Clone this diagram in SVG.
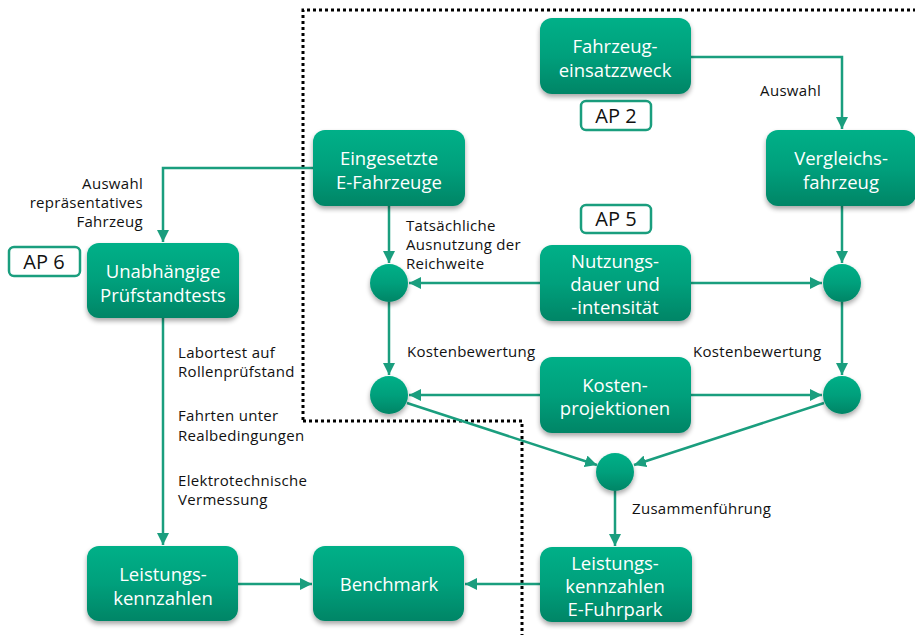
<svg xmlns="http://www.w3.org/2000/svg" width="915" height="635" viewBox="0 0 915 635">
<defs>
<linearGradient id="g" x1="0" y1="0" x2="0" y2="1">
<stop offset="0" stop-color="#05b088"/>
<stop offset="0.5" stop-color="#03a07c"/>
<stop offset="1" stop-color="#008566"/>
</linearGradient>
<filter id="sh" x="-20%" y="-20%" width="140%" height="150%">
<feGaussianBlur in="SourceAlpha" stdDeviation="2.5"/>
<feOffset dx="0" dy="3" result="b"/>
<feComponentTransfer><feFuncA type="linear" slope="0.35"/></feComponentTransfer>
<feMerge><feMergeNode/><feMergeNode in="SourceGraphic"/></feMerge>
</filter>
<marker id="ah" markerWidth="12" markerHeight="12" refX="12" refY="6" orient="auto" markerUnits="userSpaceOnUse">
<path d="M0,0 L12,6 L0,12 Z" fill="#1a9e7e"/>
</marker>
</defs>
<style>
.n{fill:url(#g);filter:url(#sh)}
.nt{font-family:"Open Sans","Noto Sans","Liberation Sans",sans-serif;font-size:18.5px;fill:#fff;text-anchor:middle}
.c{fill:url(#g);filter:url(#sh)}
.e{stroke:#1a9e7e;stroke-width:2.5;fill:none;marker-end:url(#ah)}
.l{font-family:"Open Sans","Noto Sans","Liberation Sans",sans-serif;font-size:15px;letter-spacing:0.3px;fill:#111}
.ap{fill:#fff;stroke:#1a9e7e;stroke-width:2.5}
.apt{font-family:"Open Sans","Noto Sans","Liberation Sans",sans-serif;font-size:20px;fill:#111;text-anchor:middle}
.dot{stroke:#000;stroke-width:3;stroke-dasharray:3 3;fill:none}
</style>
<path class="dot" d="M303,420 L303,10 L915,10 M303,421 L522,421 L522,635"/>
<g id="connectors">
<path class="e" d="M690,57 L842,57 L842,129"/>
<path class="e" d="M313,168 L163,168 L163,242"/>
<path class="e" d="M389,206 L389,263"/>
<path class="e" d="M540,283 L409,283"/>
<path class="e" d="M690,283 L822,283"/>
<path class="e" d="M842,206 L842,263"/>
<path class="e" d="M389,302 L389,375"/>
<path class="e" d="M842,302 L842,375"/>
<path class="e" d="M540,395 L409,395"/>
<path class="e" d="M690,395 L822,395"/>
<path class="e" d="M407,403 L597,465"/>
<path class="e" d="M824,403 L634,465"/>
<path class="e" d="M615,491 L615,546"/>
<path class="e" d="M540,584 L465,584"/>
<path class="e" d="M238,584 L312,584"/>
<path class="e" d="M163,317 L163,545"/>
</g>
<g id="labels">
<text class="l" x="821" y="96" text-anchor="end">Auswahl</text>
<text class="l" text-anchor="end"><tspan x="143" y="189">Auswahl</tspan><tspan x="143" y="208">repräsentatives</tspan><tspan x="143" y="227">Fahrzeug</tspan></text>
<text class="l"><tspan x="406" y="231">Tatsächliche</tspan><tspan x="406" y="250">Ausnutzung der</tspan><tspan x="406" y="269">Reichweite</tspan></text>
<text class="l" x="407" y="357">Kostenbewertung</text>
<text class="l" x="693" y="357">Kostenbewertung</text>
<text class="l"><tspan x="178" y="358">Labortest auf</tspan><tspan x="178" y="377">Rollenprüfstand</tspan></text>
<text class="l"><tspan x="178" y="421">Fahrten unter</tspan><tspan x="178" y="441">Realbedingungen</tspan></text>
<text class="l"><tspan x="178" y="486">Elektrotechnische</tspan><tspan x="178" y="505">Vermessung</tspan></text>
<text class="l" x="632" y="514">Zusammenführung</text>
</g>
<g id="ap2"><rect class="ap" x="581" y="101" width="70" height="29" rx="5"/><text class="apt" x="616" y="123">AP 2</text></g>
<g id="ap5"><rect class="ap" x="581" y="205" width="70" height="28" rx="5"/><text class="apt" x="616" y="226">AP 5</text></g>
<g id="ap6"><rect class="ap" x="9" y="247" width="71" height="29" rx="5"/><text class="apt" x="44" y="269">AP 6</text></g>
<g id="fahrzeugeinsatzzweck"><rect class="n" x="540" y="18" width="151" height="76" rx="12"/><text class="nt"><tspan x="615" y="53">Fahrzeug-</tspan><tspan x="615" y="77">einsatzzweck</tspan></text></g>
<g id="vergleichsfahrzeug"><rect class="n" x="766" y="130" width="150" height="76" rx="12"/><text class="nt"><tspan x="841" y="165">Vergleichs-</tspan><tspan x="841" y="189">fahrzeug</tspan></text></g>
<g id="eingesetzte"><rect class="n" x="313" y="130" width="152" height="76" rx="12"/><text class="nt"><tspan x="389" y="165">Eingesetzte</tspan><tspan x="389" y="189">E-Fahrzeuge</tspan></text></g>
<g id="unabhaengige"><rect class="n" x="87" y="243" width="152" height="75" rx="12"/><text class="nt"><tspan x="163" y="278">Unabhängige</tspan><tspan x="163" y="302">Prüfstandtests</tspan></text></g>
<g id="nutzung"><rect class="n" x="540" y="245" width="151" height="76" rx="12"/><text class="nt"><tspan x="615" y="268">Nutzungs-</tspan><tspan x="615" y="291">dauer und</tspan><tspan x="615" y="314">-intensität</tspan></text></g>
<g id="kosten"><rect class="n" x="540" y="357" width="151" height="76" rx="12"/><text class="nt"><tspan x="615" y="392">Kosten-</tspan><tspan x="615" y="415">projektionen</tspan></text></g>
<g id="leistung"><rect class="n" x="87" y="546" width="151" height="75" rx="12"/><text class="nt"><tspan x="163" y="581">Leistungs-</tspan><tspan x="163" y="605">kennzahlen</tspan></text></g>
<g id="benchmark"><rect class="n" x="313" y="546" width="151" height="75" rx="12"/><text class="nt" x="389" y="591">Benchmark</text></g>
<g id="efuhrpark"><rect class="n" x="540" y="547" width="152" height="75" rx="12"/><text class="nt"><tspan x="615" y="570">Leistungs-</tspan><tspan x="615" y="593">kennzahlen</tspan><tspan x="615" y="616">E-Fuhrpark</tspan></text></g>
<g id="c1"><circle class="c" cx="389" cy="283" r="19"/></g>
<g id="c2"><circle class="c" cx="842" cy="283" r="19"/></g>
<g id="c3"><circle class="c" cx="389" cy="395" r="19"/></g>
<g id="c4"><circle class="c" cx="842" cy="395" r="19"/></g>
<g id="c5"><circle class="c" cx="615" cy="472" r="19"/></g>
</svg>
